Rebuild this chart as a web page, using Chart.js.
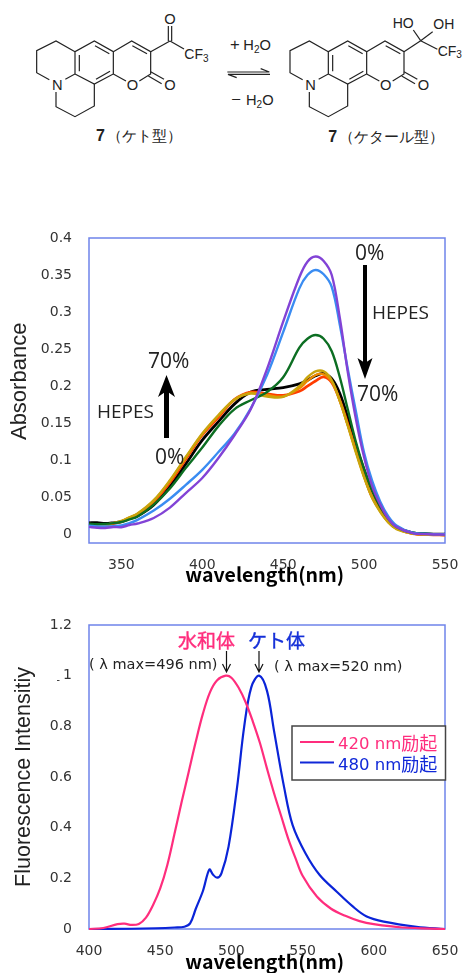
<!DOCTYPE html>
<html lang="ja">
<head>
<meta charset="UTF-8">
<title>7 吸収・蛍光スペクトル</title>
<style>
    html, body { margin: 0; padding: 0; background: #fff; }
    body { position: relative; width: 462px; height: 973px; overflow: hidden; }
    .chart-box { position: absolute; left: 0; width: 462px; }
    #absBox { top: 225px; height: 365px; }
    #fluBox { top: 600px; height: 373px; }
    svg { position: absolute; left: 0; overflow: hidden; }
    #overlay { top: 0; pointer-events: none; }
    #structure text { font-family: "Liberation Sans", sans-serif; fill: #222; }
    #structure line, #structure polyline { stroke: #222; stroke-width: 3.6; fill: none; }
    .atom { text-anchor: middle; dominant-baseline: central; font-size: 44px; }
    .note { font-family: "Open Sans", sans-serif; font-size: 21px; fill: #222; dominant-baseline: central; }
    .cjk { font-family: "Noto Sans CJK JP", sans-serif; dominant-baseline: central; }
    .head { stroke-width: .4px; }
    .lam { font-family: "DejaVu Sans", sans-serif; font-size: 14.5px; fill: #222; dominant-baseline: central; }
    .leg { font-family: "DejaVu Sans", "Noto Sans CJK JP", sans-serif; font-size: 16.5px; dominant-baseline: central; }
</style>
</head>
<body>

<svg id="structure" style="top:0" width="462" height="160" viewBox="0 0 1386 480">
    <defs>
        <g id="core">
            <polyline points="225,155 168,123 110,152 110,218 148,239"/>
            <polyline points="196,238 225,222 225,155 283,123 340,155 340,222 283,252 225,222"/>
            <polyline points="168,276 168,320 225,350 283,318 283,252"/>
            <polyline points="340,222 378,243"/>
            <polyline points="418,243 452,222 452,155 395,123 340,155"/>
            <line x1="238" y1="165" x2="238" y2="214"/>
            <line x1="285" y1="137" x2="328" y2="161"/>
            <line x1="330" y1="214" x2="288" y2="238"/>
            <line x1="397" y1="137" x2="441" y2="161"/>
            <line x1="452" y1="215" x2="492" y2="238"/>
            <line x1="445" y1="228" x2="485" y2="251"/>
            <text class="atom" x="172" y="256">N</text>
            <text class="atom" x="397" y="255">O</text>
            <text class="atom" x="510" y="255">O</text>
        </g>
    </defs>
    <use href="#core"/>
    <use href="#core" x="760"/>

    <line x1="452" y1="155" x2="510" y2="123"/>
    <line x1="505" y1="123" x2="505" y2="78"/>
    <line x1="515" y1="123" x2="515" y2="78"/>
    <line x1="510" y1="123" x2="552" y2="147"/>
    <text class="atom" x="510" y="58">O</text>
    <text x="553" y="177" font-size="42">CF<tspan font-size="30" dy="8">3</tspan></text>

    <line x1="1212" y1="155" x2="1262" y2="122"/>
    <line x1="1262" y1="122" x2="1240" y2="90"/>
    <line x1="1262" y1="122" x2="1298" y2="95"/>
    <line x1="1262" y1="122" x2="1312" y2="148"/>
    <text x="1178" y="83" font-size="42">HO</text>
    <text x="1300" y="88" font-size="42">OH</text>
    <text x="1313" y="167" font-size="42">CF<tspan font-size="30" dy="8">3</tspan></text>

    <text x="690" y="150" font-size="50">+</text>
    <text x="730" y="150" font-size="44">H<tspan font-size="30" dy="8">2</tspan><tspan dy="-8">O</tspan></text>
    <text x="694" y="314" font-size="50">−</text>
    <text x="738" y="315" font-size="44">H<tspan font-size="30" dy="8">2</tspan><tspan dy="-8">O</tspan></text>
    <polyline points="682,216 808,216 782,206"/>
    <polyline points="810,223 684,223 710,233"/>

    <text x="288" y="424" font-size="48" font-weight="bold">7</text>
    <text class="cjk" x="322" y="407" font-size="46">（ケト型）</text>
    <text x="985" y="427" font-size="48" font-weight="bold">7</text>
    <text class="cjk" x="1018" y="410" font-size="46">（ケタール型）</text>
</svg>

<div class="chart-box" id="absBox"><canvas id="absChart"></canvas></div>
<div class="chart-box" id="fluBox"><canvas id="fluChart"></canvas></div>

<svg id="overlay" width="462" height="973">
    <!-- 吸収スペクトルの注記 -->
    <text class="note" x="355" y="252">0%</text>
    <text class="note" x="372" y="312" style="font-size:19px">HEPES</text>
    <text class="note" x="357" y="393">70%</text>
    <text class="note" x="148" y="360">70%</text>
    <text class="note" x="97" y="411" style="font-size:19px">HEPES</text>
    <text class="note" x="155" y="456">0%</text>
    <rect x="363" y="265" width="4" height="100" fill="#000"/>
    <polygon points="357.5,358 365,363 372.5,358 365,379" fill="#000"/>
    <rect x="164" y="390" width="5" height="48" fill="#000"/>
    <polygon points="158,397 166.5,375 175,397 166.5,391" fill="#000"/>

    <!-- 蛍光スペクトルの注記 -->
    <text class="cjk head" x="178" y="639" font-size="19" fill="#ff2d7d" stroke="#ff2d7d">水和体</text>
    <text class="cjk head" x="248" y="639" font-size="19" fill="#1530d8" stroke="#1530d8">ケト体</text>
    <text class="lam" x="89" y="664">( λ max=496 nm)</text>
    <text class="lam" x="274" y="666">( λ max=520 nm)</text>
    <g stroke="#111" stroke-width="1.2" fill="none">
        <path d="M226.5 651V672M222.5 664L226.5 672L230.5 664"/>
        <path d="M259 651V672M255 664L259 672L263 664"/>
    </g>
    <rect x="57" y="680" width="2.5" height="1" fill="#444"/>

    <!-- 凡例 -->
    <rect x="292" y="726" width="153.5" height="54" fill="#fff" stroke="#444" stroke-width="1.5"/>
    <line x1="300" y1="742" x2="334" y2="742" stroke="#ff2d7d" stroke-width="2"/>
    <line x1="300" y1="762.5" x2="334" y2="762.5" stroke="#1028d8" stroke-width="2"/>
    <text class="leg" x="338" y="743" fill="#ff2d7d">420 nm<tspan font-size="18">励起</tspan></text>
    <text class="leg" x="338" y="764" fill="#1028d8">480 nm<tspan font-size="18">励起</tspan></text>
</svg>

<script src="https://cdn.jsdelivr.net/npm/chart.js"></script>
<script>
// 吸収スペクトル
const absNm = [330, 335, 340, 345, 350, 355, 360, 370, 380, 390, 400, 410, 420, 430, 440, 450, 460, 465, 470, 475, 480, 485, 490, 495, 500, 505, 510, 515, 520, 530, 540, 550];
const absPurple = [.0099, .0088, .0085, .0098, .0095, .0125, .0145, .022, .036, .056, .076, .103, .134, .169, .223, .287, .347, .368, .375, .369, .35, .292, .218, .155, .104, .065, .04, .021, .01, .0015, 0, -.0005];
const absBlue = [.0115, .0105, .0105, .011, .012, .015, .0195, .032, .048, .067, .087, .111, .136, .17, .215, .273, .332, .35, .3568, .351, .334, .283, .222, .165, .11, .072, .044, .024, .012, .002, .0005, 0];
const absGreen = [.014, .0135, .014, .015, .0165, .02, .024, .04, .062, .09, .117, .146, .169, .181, .192, .212, .252, .264, .269, .264, .247, .212, .168, .124, .088, .059, .037, .021, .01, .002, .0005, 0];
const absGold = [.0135, .0128, .013, .015, .018, .023, .028, .046, .073, .105, .136, .161, .182, .19, .186, .1855, .2, .212, .22, .22, .208, .18, .146, .11, .077, .049, .03, .016, .007, .001, -.0005, -.001];
const absOrange = [.014, .013, .013, .015, .0175, .0225, .0275, .045, .072, .104, .135, .16, .182, .191, .188, .186, .197, .207, .215, .216, .206, .18, .147, .112, .078, .05, .031, .016, .0075, .001, -.0005, -.001];
const absRed = [.013, .0125, .0125, .0145, .017, .022, .027, .044, .07, .102, .134, .158, .182, .192, .1895, .1875, .193, .2, .207, .2125, .205, .181, .148, .113, .079, .05, .032, .017, .008, .001, -.0005, -.001];
const absBlack = [.0153, .0158, .0145, .0155, .0172, .021, .0245, .0395, .0645, .0955, .127, .152, .176, .192, .1955, .198, .203, .208, .214, .217, .21, .19, .157, .12, .087, .059, .037, .021, .01, .002, .0005, 0];
const absXTicks = [350, 400, 450, 500, 550];
const absYTicks = [0, 0.05, 0.1, 0.15, 0.2, 0.25, 0.3, 0.35, 0.4];

// 蛍光スペクトル
const pinkNm = [400, 410, 420, 425, 430, 435, 440, 445, 450, 455, 460, 465, 470, 475, 480, 485, 490, 496, 500, 505, 510, 515, 520, 525, 530, 535, 540, 545, 550, 560, 570, 580, 590, 600, 620, 650];
const pinkVal = [0, .004, .019, .021, .016, .02, .045, .095, .16, .253, .375, .5, .62, .74, .85, .935, .982, 1, .992, .953, .895, .82, .735, .633, .535, .445, .355, .28, .21, .128, .08, .052, .031, .019, .006, 0];
const blueNm = [400, 430, 447, 460, 467, 471, 475, 480, 484.5, 487, 490, 493, 498, 504, 509, 514, 519.5, 525, 530, 537, 543, 552, 562, 574, 585, 595, 607, 630, 650];
const blueVal = [0, .001, .003, .006, .009, .022, .08, .15, .235, .215, .2025, .22, .325, .56, .8, .955, 1, .94, .78, .56, .41, .299, .213, .147, .09, .049, .029, .009, 0];
const fluXTicks = [400, 450, 500, 550, 600, 650];
const fluYTicks = [0, 0.2, 0.4, 0.6, 0.8, 1, 1.2];

const tickFont = { family: '"DejaVu Sans", sans-serif', size: 14 };

function toPoints(xs, ys) {
    return xs.map((x, i) => ({ x: x, y: ys[i] }));
}

function curve(xs, ys, color, width) {
    return {
        data: toPoints(xs, ys),
        borderColor: color,
        borderWidth: width,
        pointRadius: 0,
        tension: 0.35,
        clip: false
    };
}

// プロット枠
const frame = {
    id: 'frame',
    beforeDatasetsDraw(chart) {
        const a = chart.chartArea;
        const c = chart.ctx;
        c.save();
        c.strokeStyle = '#6f84ea';
        c.lineWidth = 1.5;
        c.strokeRect(a.left, a.top, a.right - a.left, a.bottom - a.top);
        c.restore();
    }
};

// 目盛ラベルのはみ出し分で枠がずれないようにする
function noScalePadding(s) {
    s.paddingLeft = s.paddingRight = s.paddingTop = s.paddingBottom = 0;
}

function makeChart(id, datasets, o) {
    return new Chart(document.getElementById(id), {
        type: 'line',
        data: { datasets: datasets },
        plugins: [frame],
        options: {
            animation: false,
            responsive: true,
            maintainAspectRatio: false,
            layout: { autoPadding: false, padding: { left: 0, right: 17, top: o.top, bottom: 0 } },
            plugins: { legend: { display: false }, tooltip: { enabled: false } },
            scales: {
                x: {
                    type: 'linear',
                    min: o.xMin,
                    max: o.xMax,
                    grid: { display: false },
                    border: { display: false },
                    afterBuildTicks: s => { s.ticks = o.xTicks.map(v => ({ value: v })); },
                    afterFit: s => { s.height = o.xHeight; noScalePadding(s); },
                    ticks: { font: tickFont, color: '#333', maxRotation: 0, padding: o.xTickPad, callback: v => String(v) },
                    title: {
                        display: true,
                        text: 'wavelength(nm) ',
                        color: '#000',
                        font: { family: '"Noto Sans CJK JP", sans-serif', size: 19.5, weight: 'bold' },
                        padding: { top: 0, bottom: o.xTitlePad }
                    }
                },
                y: {
                    min: o.yMin,
                    max: o.yMax,
                    grid: { display: false },
                    border: { display: false },
                    afterBuildTicks: s => { s.ticks = o.yTicks.map(v => ({ value: v })); },
                    afterFit: s => { s.width = 89; noScalePadding(s); },
                    ticks: { font: tickFont, color: '#333', padding: 9, callback: v => String(v) },
                    title: {
                        display: true,
                        text: o.yTitle,
                        color: '#222',
                        font: { family: '"Liberation Sans", sans-serif', size: o.yTitleSize },
                        padding: { top: o.yTitlePad, bottom: 0 }
                    }
                }
            }
        }
    });
}

makeChart('absChart', [
    curve(absNm, absPurple, '#8243d6', 2.4),
    curve(absNm, absBlue, '#3a8cf2', 2.4),
    curve(absNm, absGreen, '#0c6e22', 2.4),
    curve(absNm, absGold, '#c9a50c', 2.4),
    curve(absNm, absOrange, '#ee8a00', 2.4),
    curve(absNm, absRed, '#ff3c00', 2.8),
    curve(absNm, absBlack, '#000000', 2.8)
], {
    top: 13, xHeight: 47, xTickPad: 6, xTitlePad: 4,
    xMin: 330, xMax: 550, xTicks: absXTicks,
    yMin: -0.0118, yMax: 0.4, yTicks: absYTicks,
    yTitle: '   Absorbance', yTitleSize: 22, yTitlePad: 7
});

makeChart('fluChart', [
    curve(pinkNm, pinkVal, '#ff2d7d', 2.2),
    curve(blueNm, blueVal, '#0a24d8', 2.2)
], {
    top: 25, xHeight: 44, xTickPad: 6, xTitlePad: 0,
    xMin: 400, xMax: 650, xTicks: fluXTicks,
    yMin: 0, yMax: 1.2, yTicks: fluYTicks,
    yTitle: 'Fluorescence Intensitiy', yTitleSize: 21.5, yTitlePad: 11
});
</script>
</body>
</html>
